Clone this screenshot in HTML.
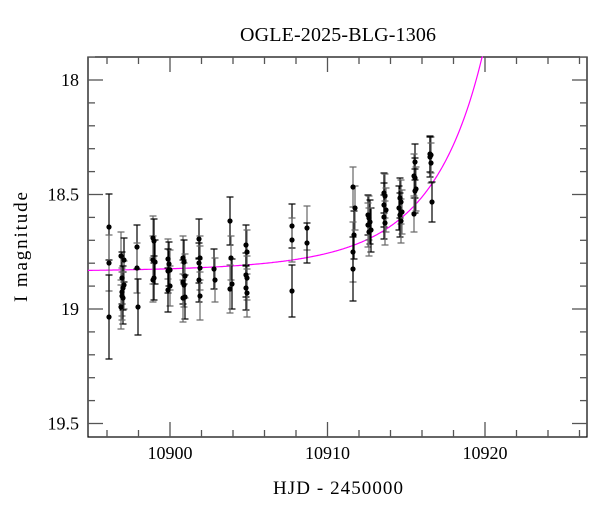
<!DOCTYPE html>
<html><head><meta charset="utf-8"><style>
body{margin:0;background:#fff;}
svg text{font-family:"Liberation Serif",serif;fill:#000;}
</style></head><body>
<svg id="s" width="600" height="512" xmlns="http://www.w3.org/2000/svg">
<rect x="0" y="0" width="600" height="512" fill="#fff"/>
<text x="338" y="41" font-size="20" text-anchor="middle" textLength="196">OGLE-2025-BLG-1306</text>
<text x="338" y="494" font-size="19" text-anchor="middle" textLength="130">HJD - 2450000</text>
<text transform="translate(27,247) rotate(-90)" font-size="19" text-anchor="middle" textLength="110">I magnitude</text>
<g id="g"></g>
</svg>
<script>
var g=document.getElementById('g'),h='';
var L=88,R=587,T=57,B=437;
function X(d){return 170+(d-10900)*15.75;}
function Y(m){return 80+(m-18)*229;}
h+='<rect x="'+L+'" y="'+T+'" width="'+(R-L)+'" height="'+(B-T)+'" fill="none" stroke="#000" stroke-width="1.2"/>';
for(var d=10896;d<=10926;d+=2){var x=X(d);if(x<L||x>R)continue;var len=(d%10==0)?15:7;
h+='<line x1="'+x+'" y1="'+B+'" x2="'+x+'" y2="'+(B-len)+'" stroke="#555" stroke-width="1.3"/>';
h+='<line x1="'+x+'" y1="'+T+'" x2="'+x+'" y2="'+(T+len)+'" stroke="#555" stroke-width="1.3"/>';
if(d%10==0)h+='<text x="'+x+'" y="459" font-size="18" text-anchor="middle">'+d+'</text>';}
for(var i=0;i<=17;i++){var m=17.9+i*0.1;var y=Y(m);if(y<T||y>B)continue;var maj=(Math.abs(m*2-Math.round(m*2))<1e-6);var len=maj?15:7;
h+='<line x1="'+L+'" y1="'+y+'" x2="'+(L+len)+'" y2="'+y+'" stroke="#555" stroke-width="1.3"/>';
h+='<line x1="'+R+'" y1="'+y+'" x2="'+(R-len)+'" y2="'+y+'" stroke="#555" stroke-width="1.3"/>';
if(maj){var lab=(Math.round(m*10)/10).toString();h+='<text x="79" y="'+(y+6)+'" font-size="18" text-anchor="end">'+lab+'</text>';}}
// curve
var p='';
for(var x=L;x<=500;x+=1){var u=Math.sqrt(0.0064+Math.pow((x-532)/112,2));var A=(u*u+2)/(u*Math.sqrt(u*u+4));var y=272-229*2.5*Math.log10(A);if(y<T){p+='L'+x+' '+T;break;}p+=(p?'L':'M')+x.toFixed(1)+' '+y.toFixed(1);}
h+='<path d="'+p+'" fill="none" stroke="#f0f" stroke-width="1.2"/>';
var pts=[[109,227,33],[109,263,28],[109,317,42],
[121,256,24],[122,278,26],[122,292,24],[123,298,26],[121,307,22],[124,260,22],[124,285,24],[123,288,22],[122,296,24],
[137,247,22],[137,268,25],[138,307,28],
[153,238,22],[154,241,22],[153,260,24],[155,262,22],[153,280,22],[154,278,22],
[168,259,20],[169,264,22],[170,270,20],[168,271,22],[170,286,20],[168,290,22],
[183,258,22],[184,262,22],[185,276,22],[183,282,22],[184,285,22],[185,297,22],[183,298,24],
[199,239,20],[200,258,22],[199,263,20],[200,268,22],[199,280,22],[200,296,24],
[214,269,20],[215,280,22],
[230,221,24],[231,258,22],[232,284,25],[230,289,24],
[246,245,20],[247,252,22],[246,275,22],[247,278,22],[246,288,22],[247,293,24],
[292,226,22],[292,240,22],[292,291,26],
[307,228,22],[307,243,20],
[353,187,20],[354,235,24],[353,252,30],[353,269,32],[355,208,22],
[368,215,20],[369,218,22],[370,222,22],[368,225,22],[371,230,22],[369,232,24],
[384,193,20],[385,196,22],[384,205,22],[386,210,22],[384,217,22],[385,223,22],
[400,198,20],[401,202,22],[399,208,22],[402,212,22],[400,215,22],[401,221,22],
[415,162,18],[414,176,22],[415,178,20],[416,189,22],[415,191,22],[414,214,18],
[430,154,18],[431,155,18],[430,157,20],[431,163,20],[432,202,20]];
pts.forEach(function(q,i){var x=q[0],y=q[1],e=q[2],c=(i%2)?'#666':'#000';
h+='<line x1="'+x+'" y1="'+(y-e)+'" x2="'+x+'" y2="'+(y+e)+'" stroke="'+c+'" stroke-width="1.2"/>';
h+='<line x1="'+(x-3.5)+'" y1="'+(y-e)+'" x2="'+(x+3.5)+'" y2="'+(y-e)+'" stroke="'+c+'" stroke-width="1.2"/>';
h+='<line x1="'+(x-3.5)+'" y1="'+(y+e)+'" x2="'+(x+3.5)+'" y2="'+(y+e)+'" stroke="'+c+'" stroke-width="1.2"/>';});
pts.forEach(function(q){h+='<circle cx="'+q[0]+'" cy="'+q[1]+'" r="2.6" fill="#000"/>';});
g.innerHTML=h;
</script>
</body></html>
